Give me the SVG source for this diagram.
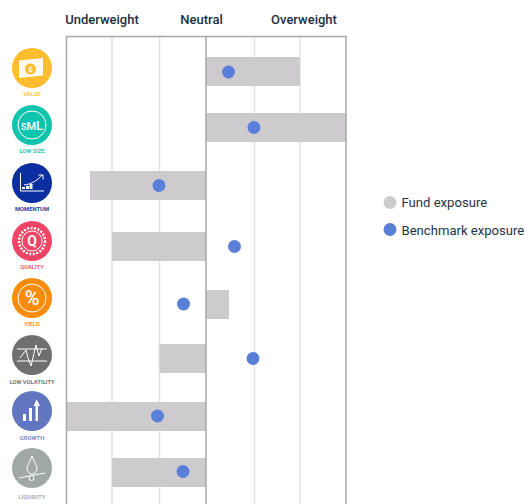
<svg xmlns="http://www.w3.org/2000/svg" width="526" height="504" viewBox="0 0 526 504">
<style>
text{font-family:Roboto,"Liberation Sans",sans-serif}
.h{font-size:13px;font-weight:500;fill:#1b2f42;text-anchor:middle}
.l{font-size:13.100px;fill:#1f3346}
.c{font-size:5.800px;font-weight:700;text-anchor:middle}
.bar{fill:#cdcbce}
.dot{fill:#5a7fd9}
.g{stroke:#e2e2e2;stroke-width:1.500;fill:none}
.a{stroke:#a8a8a8;stroke-width:1.500;fill:none}
.w{stroke:#fff;fill:none;stroke-width:1}
.f{fill:#fff}
</style>
<rect width="526" height="504" fill="#fff"/>
<text class="h" x="102" y="24">Underweight</text>
<text class="h" x="201.500" y="24">Neutral</text>
<text class="h" x="304" y="24">Overweight</text>
<g id="connectors">
<path class="g" d="M112 37V504M159.500 37V504M254.500 37V504M300 37V504"/>
<g id="bars">
<rect class="bar" x="206" y="57" width="94" height="29"/>
<rect class="bar" x="206" y="113" width="140" height="29"/>
<rect class="bar" x="90" y="171" width="116" height="29"/>
<rect class="bar" x="112" y="232" width="94" height="29"/>
<rect class="bar" x="206" y="290" width="23" height="29"/>
<rect class="bar" x="159.500" y="344" width="46.500" height="29"/>
<rect class="bar" x="66.500" y="402" width="139.500" height="29"/>
<rect class="bar" x="112" y="458" width="94" height="29"/>
</g>
<path class="a" d="M66.500 504V36.500H346V504M206 37V504"/>
<g id="dots">
<circle class="dot" cx="228.500" cy="72" r="6.500"/>
<circle class="dot" cx="254" cy="127.500" r="6.500"/>
<circle class="dot" cx="159" cy="185.500" r="6.500"/>
<circle class="dot" cx="234.500" cy="246.500" r="6.500"/>
<circle class="dot" cx="183.500" cy="304" r="6.500"/>
<circle class="dot" cx="253" cy="358.500" r="6.500"/>
<circle class="dot" cx="157.500" cy="416" r="6.500"/>
<circle class="dot" cx="183" cy="471.500" r="6.500"/>
</g>
</g>
<g id="value">
<circle cx="32" cy="68" r="20" fill="#fdbd2e"/>
<path class="f" d="M19 60.500L43 58V75.500L19 78Z" opacity=".92"/>
<circle cx="30.500" cy="69" r="5.500" fill="#fdbd2e"/>
<text x="30.500" y="71.800" font-size="8" font-weight="700" fill="#fff" text-anchor="middle">$</text>
<text class="c" x="32" y="96" fill="#fdc64f">VALUE</text>
</g>
<g id="low-size">
<circle cx="32" cy="125" r="20" fill="#0dc4ad"/>
<circle class="w" cx="32" cy="125" r="14"/>
<text x="32" y="129.500" font-size="11" font-weight="500" fill="#fff" text-anchor="middle"><tspan font-size="9">S</tspan>M<tspan font-size="13">L</tspan></text>
<text class="c" x="32" y="153" fill="#2ec9b6">LOW SIZE</text>
</g>
<g id="momentum">
<circle cx="32" cy="183" r="20" fill="#0b2fa0"/>
<path class="w" d="M20.500 173V191H44"/>
<path class="f" d="M22 189h3v-2h-3zM26 189h3v-3h-3zM29.500 189h3v-5h-3z"/>
<path class="w" d="M24 185C32 184 38 180 42 175M38.500 175H43V179.500"/>
<text class="c" x="32" y="211" fill="#1f3ea6">MOMENTUM</text>
</g>
<g id="quality">
<circle cx="32" cy="241" r="20" fill="#ee4565"/>
<circle cx="32" cy="241" r="13" fill="none" stroke="#fff" stroke-width="2.500" stroke-dasharray="2 1.500"/>
<circle class="w" cx="32" cy="241" r="10"/>
<text x="32" y="246" font-size="14" font-weight="700" fill="#fff" text-anchor="middle">Q</text>
<text class="c" x="32" y="269" fill="#f0607c">QUALITY</text>
</g>
<g id="yield">
<circle cx="32" cy="298" r="20" fill="#fb8c0b"/>
<circle class="w" cx="32" cy="298" r="14"/>
<text x="32" y="305" font-size="20" font-weight="500" fill="#fff" text-anchor="middle">%</text>
<text class="c" x="32" y="326" fill="#fb9a2a">YIELD</text>
</g>
<g id="low-volatility">
<circle cx="32" cy="355" r="20" fill="#6f6f6f"/>
<path class="w" d="M17 349H47M17 361H47M20 358L26 350L28 358L31 366L36 345L39 356L42 348"/>
<text class="c" x="32" y="384" fill="#77787a">LOW VOLATILITY</text>
</g>
<g id="growth">
<circle cx="32" cy="411" r="20" fill="#6276c0"/>
<path class="f" d="M23 421h3v-7h-3zM29 421h3v-13h-3zM35.500 421h2.500v-17h-2.500z"/>
<path class="f" d="M33.500 406L36.700 399.500L40 406Z"/>
<text class="c" x="32" y="440" fill="#7b8bc9">GROWTH</text>
</g>
<g id="liquidity">
<circle cx="32" cy="468" r="20" fill="#a1a9a7"/>
<path class="w" d="M32 456C30 462 27 465 27 469A5 5 0 0 0 37 469C37 465 34 462 32 456ZM19 478L45 473"/>
<circle class="w" cx="31.500" cy="478" r="2.500"/>
<text class="c" x="32" y="499" fill="#a9aeac">LIQUIDITY</text>
</g>
<g id="legend">
<circle cx="390" cy="202.500" r="6.500" fill="#cdcbce"/>
<text class="l" x="401.500" y="207">Fund exposure</text>
<circle class="dot" cx="390" cy="229.500" r="6.500"/>
<text class="l" x="401.500" y="234.500">Benchmark exposure</text>
</g>
</svg>
